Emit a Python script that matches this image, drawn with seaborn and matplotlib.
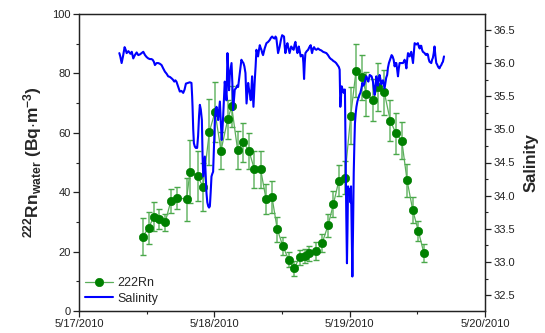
import numpy as np
import pandas as pd
import matplotlib
matplotlib.use("Agg")
import matplotlib.pyplot as plt
import matplotlib.dates as mdates
from matplotlib.ticker import MultipleLocator, FormatStrFormatter
import seaborn as sns

# ---- data (time in days since 5/17/2010 00:00) ----
rn_time = [0.470, 0.514, 0.554, 0.593, 0.637, 0.679, 0.721, 0.795, 0.820, 0.876,
           0.916, 0.963, 1.005, 1.049, 1.099, 1.128, 1.172, 1.214, 1.256, 1.296,
           1.342, 1.382, 1.426, 1.465, 1.506, 1.549, 1.590, 1.630, 1.668, 1.700,
           1.752, 1.796, 1.840, 1.880, 1.920, 1.964, 2.008, 2.047, 2.090, 2.124,
           2.170, 2.212, 2.256, 2.300, 2.342, 2.385, 2.424, 2.466, 2.507, 2.549]
rn_value = [25.0, 28.0, 31.8, 31.0, 29.9, 37.1, 38.2, 37.6, 46.9, 45.4,
            41.9, 60.3, 67.0, 54.0, 64.5, 68.9, 54.2, 56.8, 53.9, 47.7,
            47.7, 37.7, 38.4, 27.5, 21.9, 17.3, 14.4, 18.1, 18.5, 19.4,
            20.2, 22.8, 28.8, 36.0, 43.9, 44.9, 65.8, 80.9, 78.7, 73.1,
            71.1, 75.5, 73.6, 64.1, 59.8, 57.4, 44.0, 34.0, 27.0, 19.4]
rn_error = [6.2, 5.3, 4.8, 3.3, 2.8, 4.0, 3.7, 7.3, 10.6, 8.4,
            8.1, 11.0, 10.0, 6.3, 6.7, 6.8, 6.3, 6.6, 6.2, 6.2,
            6.2, 5.0, 5.3, 4.2, 3.0, 2.5, 2.5, 2.5, 2.5, 2.5,
            3.0, 3.0, 4.0, 4.5, 5.2, 5.5, 9.5, 8.9, 7.6, 7.5,
            7.0, 8.0, 7.5, 7.0, 7.0, 6.3, 5.6, 4.5, 3.4, 3.0]

sal_time = [0.298, 0.305, 0.315, 0.325, 0.337, 0.345, 0.352, 0.365, 0.380, 0.390,
            0.401, 0.413, 0.426, 0.438, 0.450, 0.462, 0.475, 0.488, 0.500, 0.512,
            0.524, 0.535, 0.544, 0.553, 0.561, 0.573, 0.585, 0.597, 0.610, 0.622,
            0.635, 0.647, 0.659, 0.672, 0.684, 0.694, 0.704, 0.712, 0.720, 0.732,
            0.745, 0.757, 0.770, 0.780, 0.790, 0.805, 0.819, 0.831, 0.836, 0.839,
            0.844, 0.849, 0.856, 0.863, 0.873, 0.880, 0.887, 0.893, 0.900, 0.908,
            0.913, 0.918, 0.924, 0.930, 0.936, 0.942, 0.948, 0.955, 0.961, 0.967,
            0.973, 0.979, 0.985, 0.991, 0.998, 1.004, 1.010, 1.016, 1.022, 1.028,
            1.035, 1.041, 1.048, 1.055, 1.060, 1.065, 1.071, 1.077, 1.083, 1.090,
            1.097, 1.103, 1.109, 1.114, 1.120, 1.127, 1.133, 1.139, 1.145, 1.151,
            1.160, 1.168, 1.176, 1.188, 1.200, 1.208, 1.215, 1.222, 1.230, 1.238,
            1.244, 1.250, 1.255, 1.260, 1.265, 1.269, 1.274, 1.279, 1.284, 1.289,
            1.294, 1.299, 1.305, 1.311, 1.317, 1.323, 1.330, 1.336, 1.342, 1.348,
            1.354, 1.360, 1.372, 1.385, 1.398, 1.410, 1.418, 1.427, 1.436, 1.446,
            1.452, 1.458, 1.465, 1.471, 1.477, 1.483, 1.492, 1.501, 1.508, 1.515,
            1.520, 1.525, 1.533, 1.540, 1.548, 1.556, 1.562, 1.568, 1.577, 1.586,
            1.593, 1.599, 1.607, 1.614, 1.619, 1.624, 1.631, 1.638, 1.646, 1.653,
            1.658, 1.663, 1.668, 1.673, 1.683, 1.693, 1.702, 1.712, 1.717, 1.722,
            1.730, 1.737, 1.745, 1.754, 1.766, 1.779, 1.791, 1.803, 1.815, 1.828,
            1.840, 1.852, 1.862, 1.870, 1.880, 1.889, 1.900, 1.914, 1.920, 1.926,
            1.931, 1.936, 1.941, 1.948, 1.956, 1.961, 1.965, 1.968, 1.970, 1.975,
            1.980, 1.984, 1.988, 1.995, 2.000, 2.005, 2.010, 2.015, 2.020, 2.025,
            2.030, 2.035, 2.039, 2.045, 2.050, 2.057, 2.064, 2.072, 2.079, 2.087,
            2.094, 2.101, 2.108, 2.116, 2.123, 2.130, 2.138, 2.143, 2.148, 2.155,
            2.162, 2.167, 2.172, 2.178, 2.185, 2.191, 2.197, 2.203, 2.210, 2.215,
            2.221, 2.228, 2.234, 2.240, 2.246, 2.252, 2.258, 2.264, 2.270, 2.277,
            2.283, 2.290, 2.295, 2.302, 2.310, 2.317, 2.325, 2.332, 2.340, 2.345,
            2.350, 2.357, 2.363, 2.369, 2.380, 2.394, 2.400, 2.406, 2.413, 2.419,
            2.425, 2.431, 2.437, 2.443, 2.449, 2.455, 2.462, 2.468, 2.474, 2.480,
            2.486, 2.492, 2.498, 2.504, 2.511, 2.517, 2.523, 2.529, 2.535, 2.541,
            2.548, 2.554, 2.560, 2.566, 2.572, 2.578, 2.584, 2.590, 2.597, 2.603,
            2.609, 2.615, 2.621, 2.627, 2.634, 2.640, 2.646, 2.652, 2.658, 2.664,
            2.670, 2.677, 2.683, 2.689, 2.697]
sal_value = [36.15, 36.10, 36.00, 36.10, 36.24, 36.20, 36.15, 36.18, 36.14, 36.17,
             36.07, 36.12, 36.16, 36.12, 36.13, 36.15, 36.17, 36.12, 36.09, 36.07,
             36.06, 36.06, 36.05, 36.02, 35.97, 36.00, 36.00, 35.99, 35.97, 35.92,
             35.87, 35.84, 35.80, 35.79, 35.77, 35.75, 35.72, 35.74, 35.72, 35.65,
             35.57, 35.58, 35.55, 35.60, 35.69, 35.70, 35.71, 35.70, 35.50, 35.34,
             35.00, 34.79, 34.74, 34.72, 34.72, 34.90, 35.20, 35.37, 35.30, 35.14,
             34.60, 34.29, 34.45, 34.59, 34.30, 34.04, 33.90, 33.84, 33.82, 33.84,
             34.05, 34.29, 34.33, 34.36, 34.80, 35.14, 35.30, 35.34, 35.25, 35.14,
             35.30, 35.42, 35.10, 34.84, 35.00, 35.19, 35.45, 35.72, 35.60, 35.44,
             36.15, 35.90, 35.59, 35.82, 35.90, 36.00, 35.70, 35.29, 35.45, 35.60,
             35.62, 35.66, 35.64, 35.85, 36.05, 36.02, 36.00, 35.95, 35.85, 35.39,
             35.55, 35.70, 35.62, 35.57, 35.50, 35.44, 35.60, 35.80, 35.55, 35.34,
             35.55, 35.75, 35.95, 36.20, 36.15, 36.10, 36.20, 36.27, 36.23, 36.20,
             36.15, 36.12, 36.22, 36.30, 36.32, 36.35, 36.38, 36.40, 36.38, 36.37,
             36.40, 36.38, 36.25, 36.15, 36.20, 36.25, 36.35, 36.42, 36.41, 36.40,
             36.25, 36.15, 36.25, 36.30, 36.22, 36.15, 36.20, 36.25, 36.22, 36.20,
             36.28, 36.32, 36.22, 36.15, 36.20, 36.25, 36.18, 36.10, 36.12, 36.12,
             36.00, 35.76, 36.00, 36.15, 36.18, 36.20, 36.24, 36.27, 36.20, 36.15,
             36.22, 36.24, 36.21, 36.20, 36.22, 36.20, 36.19, 36.17, 36.16, 36.15,
             36.12, 36.08, 36.06, 36.05, 36.03, 36.02, 36.00, 35.96, 35.94, 35.90,
             35.34, 35.50, 35.65, 35.60, 35.55, 35.60, 35.60, 35.00, 34.59, 33.70,
             32.98, 33.50, 34.14, 34.05, 34.10, 33.90, 34.14, 33.40, 32.78, 33.50,
             34.34, 34.80, 35.09, 35.25, 35.34, 35.42, 35.47, 35.52, 35.55, 35.62,
             35.70, 35.66, 35.68, 35.75, 35.80, 35.76, 35.72, 35.77, 35.82, 35.81,
             35.80, 35.76, 35.72, 35.62, 35.52, 35.65, 35.80, 35.72, 35.66, 35.75,
             35.82, 35.75, 35.68, 35.72, 35.74, 35.68, 35.62, 35.70, 35.78, 35.82,
             35.93, 36.00, 36.03, 36.07, 36.12, 36.10, 36.05, 35.95, 36.00, 36.00,
             35.92, 35.80, 35.92, 36.00, 36.00, 36.00, 36.02, 36.05, 36.00, 35.92,
             36.05, 36.15, 36.12, 36.10, 36.14, 36.17, 36.08, 36.00, 36.15, 36.30,
             36.29, 36.28, 36.29, 36.30, 36.25, 36.22, 36.26, 36.26, 36.20, 36.17,
             36.16, 36.15, 36.13, 36.12, 36.14, 36.13, 36.06, 36.02, 36.01, 36.00,
             36.05, 36.08, 36.15, 36.25, 36.10, 36.00, 35.98, 35.95, 35.93, 35.92,
             35.95, 35.97, 36.00, 36.02, 36.10]

start_date = "2010-05-17"
rn_label = "222Rn"
sal_label = "Salinity"

# ---- build frames ----
t0 = pd.Timestamp(start_date)
rn = pd.DataFrame({"time": t0 + pd.to_timedelta(rn_time, unit="D"),
                   "rn": rn_value, "err": rn_error})
sal = pd.DataFrame({"time": t0 + pd.to_timedelta(sal_time, unit="D"),
                    "sal": sal_value})

sns.set_theme(style="ticks")
plt.rcParams["font.family"] = ["Liberation Sans", "DejaVu Sans"]
plt.rcParams["mathtext.fontset"] = "custom"
plt.rcParams["mathtext.rm"] = "Liberation Sans"
plt.rcParams["mathtext.bf"] = "Liberation Sans:bold"
plt.rcParams["mathtext.it"] = "Liberation Sans:italic"
plt.rcParams["axes.edgecolor"] = "#222222"
plt.rcParams["axes.linewidth"] = 0.9

fig = plt.figure(figsize=(5.45, 3.33), dpi=100)
ax = fig.add_axes([79 / 545, 22 / 333, 406 / 545, 297 / 333])

green = "#008000"
eb = ax.errorbar(rn["time"], rn["rn"], yerr=rn["err"], fmt="none",
                 ecolor="#4aa84a", elinewidth=1.2, capsize=2.5, capthick=1.0,
                 alpha=0.75, zorder=2)
for cl in eb[1]:
    cl.set_color(green)
    cl.set_alpha(1.0)
sns.lineplot(data=rn, x="time", y="rn", ax=ax, color="#5aae5a", lw=0.9,
             marker="o", markersize=6, markerfacecolor=green,
             markeredgecolor=green, markeredgewidth=0.5,
             estimator=None, sort=False, label=rn_label, legend=False, zorder=3)

ax2 = ax.twinx()
sns.lineplot(data=sal, x="time", y="sal", ax=ax2, color="#0000ff", lw=1.5,
             estimator=None, sort=False, label=sal_label, legend=False, zorder=4)

# axes
ax.set_xlim(t0, t0 + pd.Timedelta(days=3))
ax.set_ylim(0, 100)
ax2.set_ylim(32.26, 36.74)
ax.xaxis.set_major_locator(mdates.DayLocator())
ax.xaxis.set_minor_locator(mdates.HourLocator(byhour=[12]))
ax.xaxis.set_major_formatter(mdates.DateFormatter("%-m/%-d/%Y"))
ax.yaxis.set_major_locator(MultipleLocator(20))
ax.yaxis.set_minor_locator(MultipleLocator(10))
ax2.yaxis.set_major_locator(MultipleLocator(0.5))
ax2.yaxis.set_minor_locator(MultipleLocator(0.25))
ax2.yaxis.set_major_formatter(FormatStrFormatter("%.1f"))

for a in (ax, ax2):
    a.tick_params(which="major", direction="out", length=4, width=0.9,
                  labelsize=8, colors="#222222", pad=2)
    a.tick_params(which="minor", direction="out", length=2.5, width=0.8,
                  colors="#222222")
    for s in a.spines.values():
        s.set_visible(True)
        s.set_color("#222222")
        s.set_linewidth(0.9)

ax.set_xlabel("")
ax.set_ylabel(r"$\mathbf{^{222}}$$\mathbf{Rn_{water}}$ (Bq$\mathbf{\cdot}$m$\mathbf{^{-3}}$)",
              fontsize=12.5, fontweight="bold", labelpad=6)
ax2.set_ylabel("Salinity", fontsize=12, fontweight="bold", rotation=90,
               labelpad=6)

h1 = ax.lines[-1]
h2 = ax2.lines[-1]
ax2.legend([h1, h2], [rn_label, sal_label], loc="lower left",
           bbox_to_anchor=(0.0, 0.0), frameon=False, fontsize=9,
           handlelength=2.2, handletextpad=0.4, borderaxespad=0.1,
           labelspacing=0.3)

fig.savefig("out.png", dpi=100)
